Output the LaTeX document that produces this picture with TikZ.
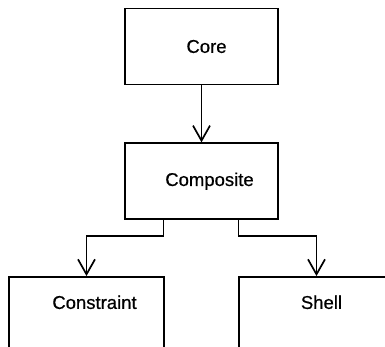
\documentclass[tikz,border=0pt]{standalone}
\usepackage{fontspec}
\setmainfont{Liberation Sans}
\newfontfamily\boxfont{Liberation Sans}[FakeBold=0.6]
\usetikzlibrary{arrows.meta,positioning}

\begin{document}
\begin{tikzpicture}[
    x=1pt, y=1pt,
    node distance=57pt,
    font=\boxfont\fontsize{18.5}{20}\selectfont,
    block/.style={rectangle, draw, line width=1.7pt, minimum height=76pt, minimum width=153pt},
    leaf/.style={block, inner sep=0pt, text height=32pt, text depth=62pt},
    arrow/.style={-{Straight Barb[length=15pt, width=17pt]}, line width=1.7pt}
]
\useasboundingbox (0,0) rectangle (385,347);

\node[block] (core) at (201.5,300.5) {\hspace*{10pt}Core};
\node[block, below=of core] (composite) {\hspace*{16pt}Composite};
\node[leaf, below=56pt of composite, xshift=-115pt, minimum width=155pt] (constraint) {\hspace*{16pt}Constraint};
\node[leaf, below=56pt of composite, xshift=115pt, minimum width=155pt] (shell) {\hspace*{10pt}Shell};

\draw[arrow] (core) -- (composite);
\draw[arrow] ([xshift=-38pt]composite.south) -- ++(0,-16) -| (constraint.north);
\draw[arrow] ([xshift=37pt]composite.south) -- ++(0,-16) -| (shell.north);
\end{tikzpicture}
\end{document}
